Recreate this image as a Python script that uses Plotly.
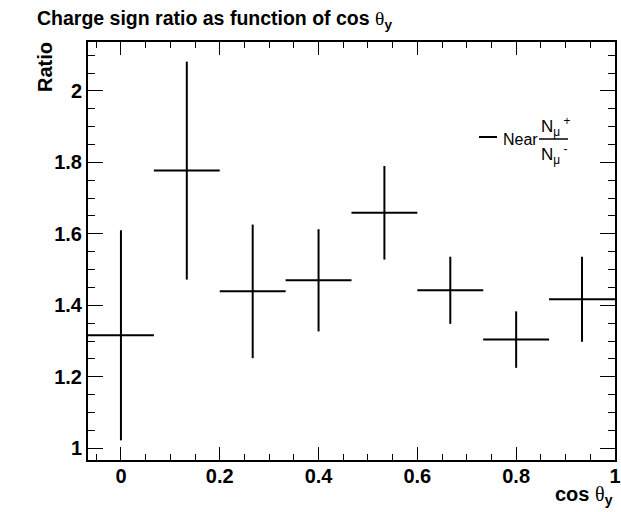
import plotly.graph_objects as go

# ---- data ----
bin_centers = [0.0, 0.1333, 0.2667, 0.4, 0.5333, 0.6667, 0.8, 0.9333]
bin_half_width = [0.0667] * 8
ratio = [1.316, 1.777, 1.439, 1.470, 1.659, 1.442, 1.304, 1.417]
ratio_err = [0.294, 0.305, 0.187, 0.143, 0.131, 0.094, 0.079, 0.119]
x_ticks = [0, 0.2, 0.4, 0.6, 0.8, 1]
x_tick_labels = ["0", "0.2", "0.4", "0.6", "0.8", "1"]
y_ticks = [1, 1.2, 1.4, 1.6, 1.8, 2]
y_tick_labels = ["1", "1.2", "1.4", "1.6", "1.8", "2"]

W, H = 621, 512
L, R, T, B = 88, 615, 42, 460


def fx(px):
    return (px - L) / (R - L)


def fy(py):
    return (B - py) / (B - T)


FONT = "Liberation Sans, Arial, Helvetica, sans-serif"
SERIF = "Liberation Serif, Times New Roman, serif"
theta = '<span style="font-family:%s;font-weight:normal">θ</span>' % SERIF

fig = go.Figure()
fig.add_trace(go.Scatter(
    x=bin_centers, y=ratio, mode="markers",
    marker=dict(size=2, color="black"),
    error_y=dict(type="data", array=ratio_err, color="black", thickness=2, width=0),
    error_x=dict(type="data", array=bin_half_width, color="black", thickness=2, width=0),
    showlegend=False,
))

axis_common = dict(
    showline=True, linecolor="black", linewidth=2, mirror="allticks",
    ticks="inside", tickcolor="black", tickwidth=1,
    showgrid=False, zeroline=False, automargin=False,
    tickfont=dict(family=FONT, size=20, color="black", weight="bold"),
)

fig.update_xaxes(
    range=[-0.0667, 1.0001], tickvals=x_ticks, ticktext=x_tick_labels,
    ticklen=13, ticklabelstandoff=-3,
    minor=dict(ticks="inside", dtick=0.05, ticklen=6, tickcolor="black", tickwidth=1),
    **axis_common,
)
fig.update_yaxes(
    range=[0.967, 2.137], tickvals=y_ticks, ticktext=y_tick_labels,
    ticklen=15,
    minor=dict(ticks="inside", dtick=0.05, ticklen=7, tickcolor="black", tickwidth=1),
    **axis_common,
)

annotations = [
    # y axis title
    dict(x=fx(45), y=fy(67), xref="paper", yref="paper", text="<b>Ratio</b>",
         textangle=-90, showarrow=False, xanchor="center", yanchor="middle",
         font=dict(family=FONT, size=20, color="black")),
    # x axis title
    dict(x=1.0, y=fy(495), xref="paper", yref="paper",
         text="<b>cos </b>" + theta + "<sub><b>y</b></sub>",
         showarrow=False, xanchor="right", yanchor="middle",
         font=dict(family=FONT, size=20, color="black")),
    # legend entry
    dict(x=fx(501), y=fy(139), xref="paper", yref="paper", text="Near",
         showarrow=False, xanchor="left", yanchor="middle",
         font=dict(family=FONT, size=16, color="black")),
    dict(x=fx(539), y=fy(126), xref="paper", yref="paper",
         text="N<sub>μ </sub><sup>+</sup>",
         showarrow=False, xanchor="left", yanchor="middle",
         font=dict(family=FONT, size=17, color="black")),
    dict(x=fx(539), y=fy(154), xref="paper", yref="paper",
         text="N<sub>μ </sub><sup>-</sup>",
         showarrow=False, xanchor="left", yanchor="middle",
         font=dict(family=FONT, size=17, color="black")),
]

shapes = [
    dict(type="line", xref="paper", yref="paper", x0=fx(479), x1=fx(497),
         y0=fy(137), y1=fy(137), line=dict(color="black", width=2)),
    dict(type="line", xref="paper", yref="paper", x0=fx(539), x1=fx(568),
         y0=fy(139), y1=fy(139), line=dict(color="black", width=1.5)),
]

fig.update_layout(
    width=W, height=H,
    margin=dict(l=L, r=W - R, t=T, b=H - B, autoexpand=False),
    paper_bgcolor="white", plot_bgcolor="white",
    title=dict(text="<b>Charge sign ratio as function of cos </b>" + theta + "<sub><b>y</b></sub>",
               x=37 / W, y=1 - 18 / H, xref="container", yref="container",
               xanchor="left", yanchor="middle",
               font=dict(family=FONT, size=19.5, color="black")),
    annotations=annotations, shapes=shapes,
    showlegend=False,
)

fig.write_html("out.html")
